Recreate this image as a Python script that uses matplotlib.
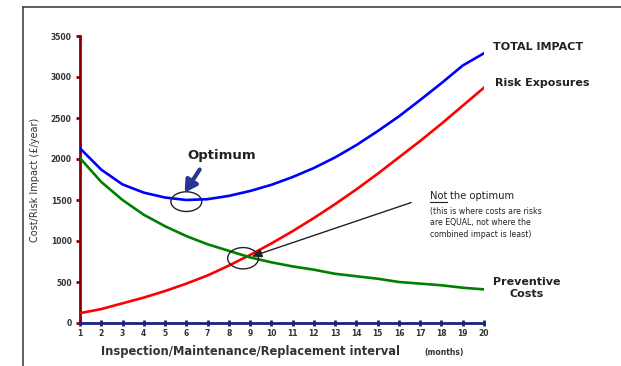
import matplotlib
matplotlib.use("Agg")
import matplotlib.pyplot as plt
from matplotlib.patches import Ellipse
from matplotlib.lines import Line2D

plt.rcParams['font.family'] = ['DejaVu Sans']

interval = list(range(1, 21))
total_impact = [2130, 1870, 1690, 1590, 1530, 1500, 1510, 1550, 1610, 1685,
                1780, 1890, 2020, 2170, 2340, 2520, 2720, 2925, 3140, 3290]
risk_exposures = [120, 170, 240, 310, 390, 480, 580, 700, 830, 970,
                  1120, 1280, 1450, 1630, 1820, 2020, 2220, 2430, 2650, 2870]
preventive_costs = [2010, 1720, 1500, 1320, 1180, 1060, 960, 880, 800, 740,
                    690, 650, 600, 570, 540, 500, 480, 460, 430, 410]
y_ticks = [0, 500, 1000, 1500, 2000, 2500, 3000, 3500]
x_tick_labels = [str(v) for v in interval]

W, H = 621, 366
fig = plt.figure(figsize=(W / 100, H / 100), dpi=100)
ax = fig.add_axes([80 / W, 43 / H, (484 - 80) / W, (323 - 36) / H])

ax.plot(interval, total_impact, color='#0000ff', lw=1.9, zorder=3)
ax.plot(interval, risk_exposures, color='#ff0000', lw=1.9, zorder=3)
ax.plot(interval, preventive_costs, color='#008000', lw=1.9, zorder=3)

ax.set_xlim(1, 20)
ax.set_ylim(0, 3500)
for s in ['top', 'right']:
    ax.spines[s].set_visible(False)
ax.spines['left'].set_color('#8b0000')
ax.spines['left'].set_linewidth(2)
ax.spines['bottom'].set_color('#1a237e')
ax.spines['bottom'].set_linewidth(2)
ax.set_yticks(y_ticks)
ax.set_yticklabels([str(v) for v in y_ticks], fontsize=5.5, fontweight='bold', color='#333333')
ax.set_xticks(interval)
ax.set_xticklabels(x_tick_labels, fontsize=5.5, fontweight='bold', color='#333333')
ax.tick_params(axis='y', direction='out', length=3, width=2, color='#8b0000', pad=3)
ax.tick_params(axis='x', direction='inout', length=5, width=2, color='#1a237e', pad=2)
ax.set_ylabel('Cost/Risk Impact (£/year)', fontsize=7, color='#333333', labelpad=8)

fig.text(101 / W, 1 - 352 / H, 'Inspection/Maintenance/Replacement interval', fontsize=8.3,
         fontweight='bold', color='#333333', va='center', ha='left')
fig.text(424 / W, 1 - 352 / H, '(months)', fontsize=5.5, fontweight='bold',
         color='#333333', va='center', ha='left')

# Series labels
fig.text(493 / W, 1 - 47 / H, 'TOTAL IMPACT', fontsize=8, fontweight='bold',
         color='#222222', va='center', ha='left')
fig.text(495 / W, 1 - 83 / H, 'Risk Exposures', fontsize=8, fontweight='bold',
         color='#222222', va='center', ha='left')
fig.text(527 / W, 1 - 288 / H, 'Preventive\nCosts', fontsize=8, fontweight='bold',
         color='#222222', va='center', ha='center', linespacing=1.3)

# Optimum annotation
fig.text(222 / W, 1 - 155 / H, 'Optimum', fontsize=9.5, fontweight='bold',
         color='#222222', va='center', ha='center')
ax.annotate('', xy=(5.85, 1560), xytext=(6.7, 1900),
            arrowprops=dict(arrowstyle='-|>,head_length=0.7,head_width=0.4',
                            color='#283593', lw=3))
ax.add_patch(Ellipse((6.0, 1480), 1.45, 240, fill=False, ec='#222222', lw=1, zorder=4))
ax.add_patch(Ellipse((8.67, 790), 1.45, 260, fill=False, ec='#222222', lw=1, zorder=4))
ax.annotate('', xy=(8.95, 800), xytext=(16.7, 1480),
            arrowprops=dict(arrowstyle='-|>,head_length=0.6,head_width=0.25',
                            color='#222222', lw=1), annotation_clip=False)

# Not the optimum text
t_not = fig.text(430 / W, 1 - 196 / H, 'Not', fontsize=7.2, color='#222222', va='center', ha='left')
fig.canvas.draw()
bb = t_not.get_window_extent(fig.canvas.get_renderer())
fig.text(bb.x1 / W + 3 / W, 1 - 196 / H, 'the optimum', fontsize=7.2, color='#222222',
         va='center', ha='left')
fig.add_artist(Line2D([bb.x0 / W, bb.x1 / W], [1 - 202 / H, 1 - 202 / H], color='#222222', lw=0.8))
fig.text(430 / W, 1 - 223 / H,
         '(this is where costs are risks\nare EQUAL, not where the\ncombined impact is least)',
         fontsize=5.6, color='#222222', va='center', ha='left', linespacing=1.3)

# Frame lines
fig.add_artist(Line2D([23 / W, 23 / W], [0, 1 - 7 / H], color='#444444', lw=1.2))
fig.add_artist(Line2D([23 / W, 1], [1 - 7 / H, 1 - 7 / H], color='#444444', lw=1.2))

fig.savefig('out.png', dpi=100)
